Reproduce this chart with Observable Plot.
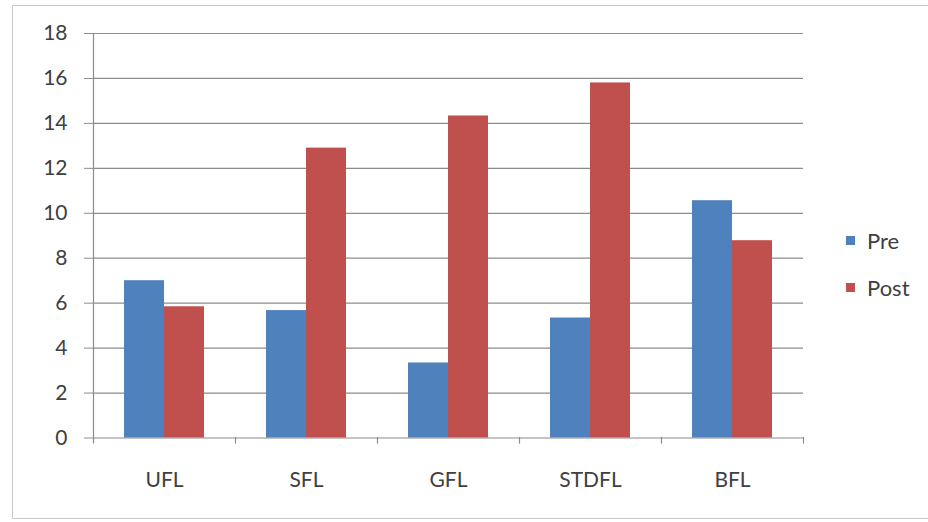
<!DOCTYPE html>
<html>
<head>
<meta charset="utf-8">
<script src="https://cdn.jsdelivr.net/npm/d3@7"></script>
<script src="https://cdn.jsdelivr.net/npm/@observablehq/plot@0.6"></script>
<style>
  html, body { margin: 0; padding: 0; background: #fff; }
  #wrap { position: relative; width: 928px; height: 522px; overflow: hidden; font-family: Lato, "Open Sans", sans-serif; }
  #border { position: absolute; left: 12px; top: 5px; width: 940px; height: 514px; border: 1.5px solid #c8c8c8; box-sizing: border-box; }
  #legend { position: absolute; left: 846px; top: 216.5px; font-size: 22px; color: #404040; }
  .item { display: flex; align-items: center; height: 47px; }
  .sw { width: 9px; height: 9px; margin-right: 12px; }
</style>
</head>
<body>
<div id="wrap">
  <div id="border"></div>
  <div id="chart"></div>
  <div id="legend"></div>
</div>
<script>
const categories = ["UFL", "SFL", "GFL", "STDFL", "BFL"];
const series = ["Pre", "Post"];
const preValues = [7.0, 5.67, 3.34, 5.34, 10.56];
const postValues = [5.84, 12.9, 14.33, 15.8, 8.78];
const yTicks = [0, 2, 4, 6, 8, 10, 12, 14, 16, 18];
const colors = ["#4f81bd", "#c0504d"];

const data = [];
categories.forEach((c, i) => {
  data.push({cat: c, series: "Pre", value: preValues[i]});
  data.push({cat: c, series: "Post", value: postValues[i]});
});

const chart = Plot.plot({
  width: 928,
  height: 522,
  marginLeft: 93,
  marginRight: 125,
  marginTop: 33,
  marginBottom: 84.5,
  style: {fontFamily: "Lato, 'Open Sans', sans-serif", fontSize: "21px", color: "#404040", background: "transparent"},
  fx: {domain: categories, padding: 0, label: null},
  x: {domain: series, paddingInner: 0, paddingOuter: 0.775, axis: null},
  y: {domain: [0, 18], label: null},
  color: {domain: series, range: colors},
  marks: [
    Plot.ruleY(yTicks, {stroke: "#8c8c8c", strokeWidth: 1.2}),
    Plot.barY(data, {fx: "cat", x: "series", y: "value", fill: "series"}),
    Plot.frame({anchor: "left", facetAnchor: "left", stroke: "#8c8c8c", strokeWidth: 1.2, insetBottom: -5}),
    Plot.frame({anchor: "right", stroke: "#8c8c8c", strokeWidth: 1.2, insetTop: 404, insetBottom: -5}),
    Plot.axisY({ticks: yTicks, tickSize: 9, tickPadding: 17, stroke: "#8c8c8c", fill: "#404040", label: null}),
    Plot.axisFx({anchor: "bottom", tickSize: 0, tickPadding: 34, label: null, fill: "#404040"})
  ]
});
document.getElementById("chart").appendChild(chart);

const legend = document.getElementById("legend");
series.forEach((s, i) => {
  const item = document.createElement("div");
  item.className = "item";
  const sw = document.createElement("span");
  sw.className = "sw";
  sw.style.background = colors[i];
  const t = document.createElement("span");
  t.textContent = s;
  item.appendChild(sw);
  item.appendChild(t);
  legend.appendChild(item);
});
</script>
</body>
</html>
